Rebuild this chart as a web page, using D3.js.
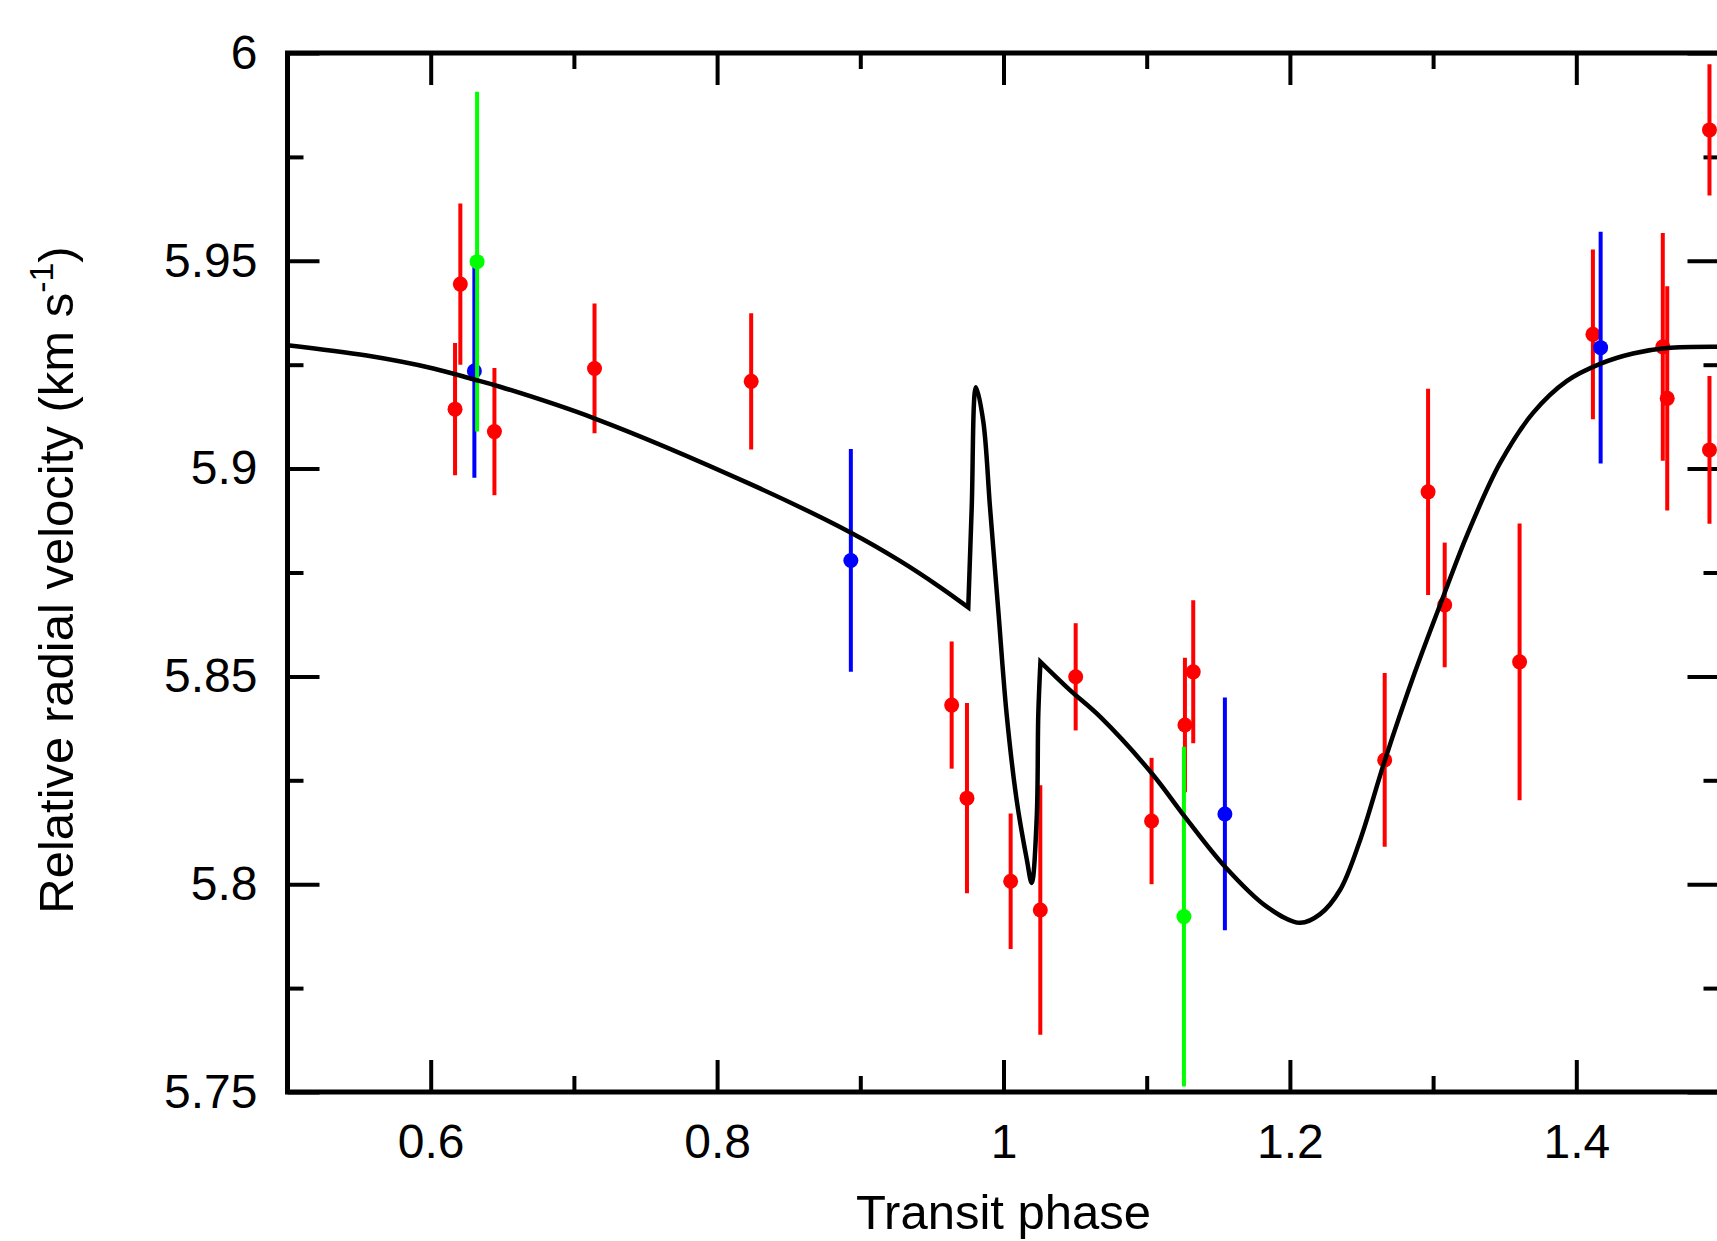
<!DOCTYPE html>
<html lang="en">
<head>
    <meta charset="UTF-8">
    <title>Transit phase vs relative radial velocity</title>
    <script src="https://d3js.org/d3.v7.min.js"></script>
    <style>
        html, body { margin: 0; padding: 0; background: #ffffff; }
        svg { display: block; }
        .tick text { font-family: 'Liberation Sans', Arial, sans-serif; font-size: 48px; fill: #000; }
        .tick line { stroke: #000; stroke-width: 4; }
        .axis-title { font-family: 'Liberation Sans', Arial, sans-serif; font-size: 49px; fill: #000; }
    </style>
</head>
<body>
    <svg width="1717" height="1241"></svg>

    <script>
        const redPhase = [0.617, 0.6207, 0.6445, 0.7144, 0.8238, 0.9638, 0.9745, 1.005, 1.0257, 1.0504,
                          1.1034, 1.1267, 1.1325, 1.2662, 1.2965, 1.3081, 1.3604, 1.4116, 1.4604, 1.4635,
                          1.493, 1.493];
        const redRV = [5.9143, 5.9444, 5.9089, 5.9241, 5.921, 5.8431, 5.8207, 5.8007, 5.7938, 5.8499,
                       5.8152, 5.8383, 5.8511, 5.8299, 5.8944, 5.8672, 5.8535, 5.9323, 5.9293, 5.9169,
                       5.9815, 5.9045];
        const redErr = [0.0159, 0.0194, 0.0153, 0.0156, 0.0164, 0.0153, 0.0229, 0.0163, 0.030, 0.0129,
                        0.0152, 0.0162, 0.0172, 0.0209, 0.0248, 0.015, 0.0333, 0.0204, 0.0274, 0.027,
                        0.0158, 0.0178];

        const bluePhase = [0.6305, 0.8934, 1.1546, 1.417];
        const blueRV = [5.9235, 5.8779, 5.8169, 5.9291];
        const blueErr = [0.0257, 0.0268, 0.028, 0.0279];

        const greenPhase = [0.6324, 1.126];
        const greenRV = [5.9498, 5.7922];
        const greenErr = [0.0409, 0.0409];

        // model curve (three pieces joined at sharp corners, see modelBreaks)
        const modelPhase = [0.5, 0.5553, 0.6018, 0.6297, 0.6484, 0.7142, 0.8237, 0.8928, 0.9277,
                            0.9556, 0.9754,
                            0.9778, 0.9808, 0.9859, 0.9906, 0.9964, 1.0022, 1.0092, 1.0162, 1.0197, 1.0232,
                            1.0243, 1.0258,
                            1.0464, 1.0674, 1.1035, 1.1267, 1.1547, 1.1838, 1.2071, 1.2211, 1.235, 1.249,
                            1.2664, 1.2874, 1.3083, 1.3237, 1.3467, 1.3698, 1.3935, 1.4166, 1.4396, 1.4633,
                            1.5];
        const modelRV = [5.9297, 5.9272, 5.9241, 5.9215, 5.9197, 5.9121, 5.8962, 5.8847, 5.8778,
                         5.8715, 5.8666,
                         5.8906, 5.9196, 5.9113, 5.8906, 5.8657, 5.8409, 5.8202, 5.8061, 5.8003, 5.816,
                         5.8409, 5.8535,
                         5.8467, 5.8403, 5.8267, 5.8162, 5.8042, 5.7946, 5.7907, 5.7928, 5.7986, 5.8106,
                         5.8299, 5.8511, 5.8703, 5.884, 5.9013, 5.9134, 5.9211, 5.9252, 5.9277, 5.929,
                         5.9293];
        const modelBreaks = [10, 22];

        const xMajor = [0.6, 0.8, 1, 1.2, 1.4];
        const xMinor = [0.7, 0.9, 1.1, 1.3];
        const yMajor = [5.75, 5.8, 5.85, 5.9, 5.95, 6];
        const yMinor = [5.775, 5.825, 5.875, 5.925, 5.975];

        const svg = d3.select("svg");
        const plotLeft = 287.5, plotRight = 1719.5, plotTop = 53, plotBottom = 1092;

        const x = d3.scaleLinear().domain([0.5, 1.5]).range([plotLeft, plotRight]);
        const y = d3.scaleLinear().domain([5.75, 6]).range([plotBottom, plotTop]);

        const fmt = d => String(d);

        // axes, ticks pointing inward
        function addAxis(axis, tx, ty) {
            const g = svg.append("g")
                .attr("transform", `translate(${tx},${ty})`)
                .call(axis);
            g.select(".domain").remove();
            return g;
        }
        addAxis(d3.axisBottom(x).tickValues(xMajor).tickSize(-32).tickPadding(32).tickFormat(fmt), 0, plotBottom);
        addAxis(d3.axisBottom(x).tickValues(xMinor).tickSize(-16).tickFormat(""), 0, plotBottom);
        addAxis(d3.axisTop(x).tickValues(xMajor).tickSize(-32).tickFormat(""), 0, plotTop);
        addAxis(d3.axisTop(x).tickValues(xMinor).tickSize(-16).tickFormat(""), 0, plotTop);
        addAxis(d3.axisLeft(y).tickValues(yMajor).tickSize(-32).tickPadding(30).tickFormat(fmt), plotLeft, 0);
        addAxis(d3.axisLeft(y).tickValues(yMinor).tickSize(-16).tickFormat(""), plotLeft, 0);
        addAxis(d3.axisRight(y).tickValues(yMajor).tickSize(-32).tickFormat(""), plotRight, 0);
        addAxis(d3.axisRight(y).tickValues(yMinor).tickSize(-16).tickFormat(""), plotRight, 0);

        // frame
        svg.append("rect")
            .attr("x", plotLeft).attr("y", plotTop)
            .attr("width", plotRight - plotLeft).attr("height", plotBottom - plotTop)
            .attr("fill", "none")
            .attr("stroke", "#000")
            .attr("stroke-width", 5);

        // data points with error bars
        function drawSeries(phase, rv, err, color) {
            const data = phase.map((p, i) => ({ p: p, v: rv[i], e: err[i] }));
            const g = svg.append("g");
            g.selectAll("line")
                .data(data)
                .enter()
                .append("line")
                .attr("x1", d => x(d.p)).attr("x2", d => x(d.p))
                .attr("y1", d => y(d.v - d.e)).attr("y2", d => y(d.v + d.e))
                .attr("stroke", color)
                .attr("stroke-width", 4);
            g.selectAll("circle")
                .data(data)
                .enter()
                .append("circle")
                .attr("cx", d => x(d.p))
                .attr("cy", d => y(d.v))
                .attr("r", 7.5)
                .attr("fill", color);
        }
        drawSeries(redPhase, redRV, redErr, "#ff0000");
        drawSeries(bluePhase, blueRV, blueErr, "#0000ff");
        drawSeries(greenPhase, greenRV, greenErr, "#00ff00");

        // model: smooth within each piece, sharp corners between pieces
        const line = d3.line()
            .x(d => x(d[0]))
            .y(d => y(d[1]))
            .curve(d3.curveCatmullRom.alpha(0.5));
        const cuts = [0, ...modelBreaks, modelPhase.length - 1];
        let pathD = "";
        for (let k = 0; k < cuts.length - 1; k++) {
            const pts = d3.range(cuts[k], cuts[k + 1] + 1).map(i => [modelPhase[i], modelRV[i]]);
            const s = line(pts);
            pathD += k === 0 ? s : "L" + s.slice(1);
        }
        svg.append("path")
            .attr("d", pathD)
            .attr("fill", "none")
            .attr("stroke", "#000")
            .attr("stroke-width", 4.5)
            .attr("stroke-linejoin", "miter");

        // titles
        svg.append("text")
            .attr("class", "axis-title")
            .attr("x", (plotLeft + plotRight) / 2)
            .attr("y", 1229)
            .attr("text-anchor", "middle")
            .text("Transit phase");

        const yt = svg.append("text")
            .attr("class", "axis-title")
            .attr("transform", "translate(73,580) rotate(-90)")
            .attr("text-anchor", "middle");
        yt.append("tspan").text("Relative radial velocity (km s");
        yt.append("tspan").attr("dy", -20).style("font-size", "34px").text("-1");
        yt.append("tspan").attr("dy", 20).text(")");
    </script>
</body>
</html>
